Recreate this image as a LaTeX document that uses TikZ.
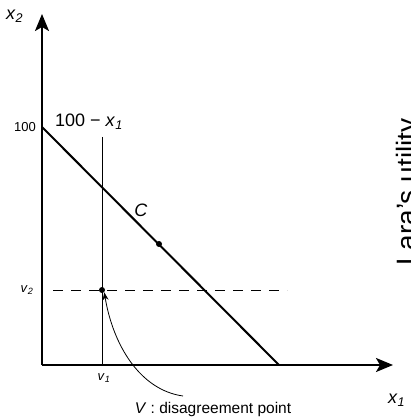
\documentclass[tikz,border=0pt]{standalone}
\usepackage{fontspec}
\setmainfont{Liberation Sans}
\usetikzlibrary{arrows.meta}
\begin{document}
\begin{tikzpicture}[x=1pt,y=-1pt,
  axis/.style={line width=2pt,-{Stealth[length=17pt,width=14pt,inset=4pt]}},
  budget/.style={line width=2pt},
  thinline/.style={line width=1pt},
  dashline/.style={line width=0.9pt,dash pattern=on 10pt off 8pt},
  dot/.style={circle,fill=black,inner sep=0pt,minimum size=6pt},
  lbl/.style={inner sep=0pt,font=\fontsize{18}{20}\selectfont},
  small/.style={inner sep=0pt,font=\fontsize{13}{15}\selectfont},
  curvearrow/.style={line width=0.8pt,-{Stealth[length=8pt,width=6pt]}}
]
\useasboundingbox (0,0) rectangle (410,419);
\coordinate (O) at (42,365);
\coordinate (ytip) at (42,14);
\coordinate (xtip) at (393,365);
\coordinate (top) at (42,127);
\coordinate (xend) at (279,365);
\coordinate (vtop) at (102,137);
\coordinate (vbot) at (102,365);
\coordinate (dstart) at (53,290);
\coordinate (dend) at (287,290);
\node[dot] (V) at (102,290) {};
\node[dot] (C) at (159,244) {};
\draw[axis] (O) -- (ytip);
\draw[axis] (O) -- (xtip);
\draw[budget] (top) -- (xend);
\draw[thinline] (vtop) -- (vbot);
\draw[dashline] (dstart) -- (dend);
\node[lbl,anchor=west] (x2) at (6,16) {\textit{x}\textsubscript{\textit{2}}};
\node[lbl,anchor=west] (x1) at (388,400) {\textit{x}\textsubscript{\textit{1}}};
\node[small,anchor=east] (l100) at (36,127) {100};
\node[lbl,anchor=west] (line) at (55,122) {100 − \textit{x}\textsubscript{\textit{1}}};
\node[lbl] (Clbl) at (141,210) {\textit{C}};
\node[small] (v2) at (27,290) {\textit{v}\textsubscript{\textit{2}}};
\node[small] (v1) at (104,378) {\textit{v}\textsubscript{\textit{1}}};
\node[inner sep=0pt,font=\fontsize{15.5}{17}\selectfont] (dis) at (213,409) {\textit{V} : disagreement point};
\draw[curvearrow] (183,396) .. controls (140,390) and (113,345) .. (V.south east);
\node[inner sep=0pt,rotate=90,anchor=base west,font=\fontsize{28}{30}\selectfont] (lara) at (416,266) {Lara’s utility};
\end{tikzpicture}
\end{document}
